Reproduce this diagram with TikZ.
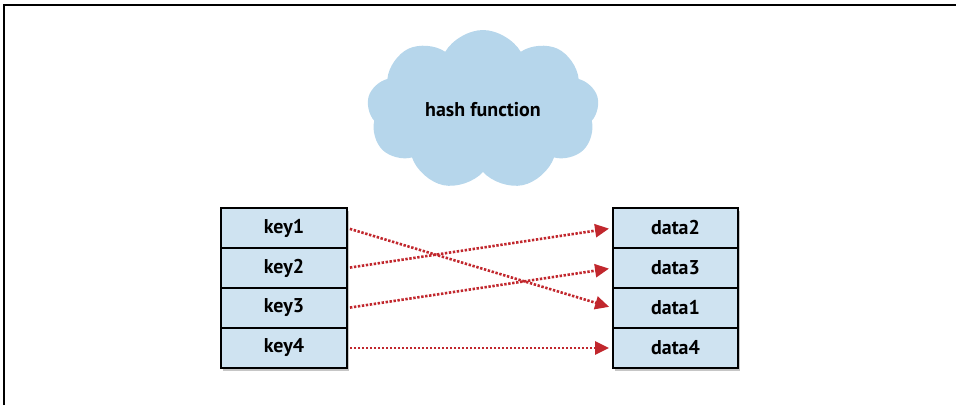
\documentclass[tikz,border=0pt]{standalone}
\usepackage{fontspec}
\setmainfont{PT Sans}
\usetikzlibrary{positioning,arrows.meta,shapes.symbols,shadows}
\definecolor{cellblue}{HTML}{CFE3F1}
\definecolor{cloudblue}{HTML}{B6D6EB}
\definecolor{linkred}{HTML}{C1272D}

\begin{document}
\begin{tikzpicture}[
    x=1bp, y=-1bp,
    font=\fontsize{20}{22}\selectfont\bfseries,
    cell/.style={rectangle, draw=black, line width=1.6bp, fill=cellblue, minimum width=126bp, minimum height=40bp, inner sep=0pt, outer sep=0pt, drop shadow={shadow xshift=2bp, shadow yshift=-2.5bp, opacity=0.45}},
    hashcloud/.style={cloud, cloud puffs=9, cloud puff arc=120, aspect=1.4, fill=cloudblue, minimum width=232bp, minimum height=160bp, inner sep=0pt},
    link/.style={draw=linkred, line width=2.6bp, dash pattern=on 2.4bp off 1.6bp, -{Triangle[length=14bp,width=13bp,fill=linkred]}, shorten <=3bp, shorten >=4bp},
    frame/.style={line width=1.4bp}
]
\useasboundingbox (0,0) rectangle (957,405);
\draw[frame] (4,405) -- (4,5) -- (956,5);

\node[hashcloud] (hash) at (483,110) {hash function};

\node[cell] (key1) at (284,228) {key1};
\node[cell, below=0pt of key1] (key2) {key2};
\node[cell, below=0pt of key2] (key3) {key3};
\node[cell, below=0pt of key3] (key4) {key4};

\node[cell, minimum width=125bp] (data2) at (675.5,228) {data2};
\node[cell, minimum width=125bp, below=0pt of data2] (data3) {data3};
\node[cell, minimum width=125bp, below=0pt of data3] (data1) {data1};
\node[cell, minimum width=125bp, below=0pt of data1] (data4) {data4};

\draw[link] (key1.east) -- (data1.west);
\draw[link] (key2.east) -- (data2.west);
\draw[link] (key3.east) -- (data3.west);
\draw[link] (key4.east) -- (data4.west);
\end{tikzpicture}
\end{document}
